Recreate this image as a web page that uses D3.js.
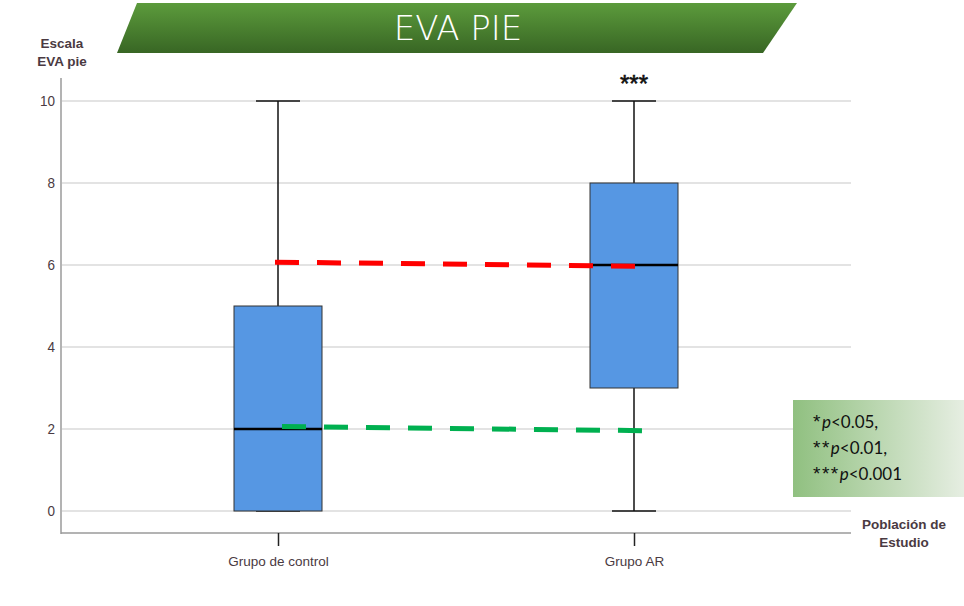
<!DOCTYPE html>
<html>
<head>
<meta charset="utf-8">
<script src="https://cdn.jsdelivr.net/npm/d3@7"></script>
<style>
  body { margin: 0; background: #fff; }
  svg text { font-family: "Liberation Sans", Arial, sans-serif; }
</style>
</head>
<body>
<div id="container"></div>
<script>
/** DATA */
const groups = ["Grupo de control", "Grupo AR"];
const q1 = [0, 3];
const medians = [2, 6];
const q3 = [5, 8];
const whiskLow = [0, 0];
const whiskHigh = [10, 10];
const yTicks = [0, 2, 4, 6, 8, 10];
// dashed trend lines (start at control, end at AR)
const redLine = [6.07, 5.97];
const greenLine = [2.06, 1.96];
const pLegend = [["*", "p", "<0.05,"], ["**", "p", "<0.01,"], ["***", "p", "<0.001"]];

/** CONSTANTS */
const width = 964, height = 606;
const labelColor = "#4a3a42";

const svg = d3.select("#container").append("svg")
  .attr("width", width).attr("height", height);

const defs = svg.append("defs");
const bannerGrad = defs.append("linearGradient").attr("id", "banner")
  .attr("x1", 0).attr("y1", 0).attr("x2", 0).attr("y2", 1);
bannerGrad.append("stop").attr("offset", "0%").attr("stop-color", "#5c9b3c");
bannerGrad.append("stop").attr("offset", "100%").attr("stop-color", "#386624");

const legGrad = defs.append("linearGradient").attr("id", "leg")
  .attr("x1", 0).attr("y1", 0).attr("x2", 1).attr("y2", 0);
legGrad.append("stop").attr("offset", "0%").attr("stop-color", "#90c080");
legGrad.append("stop").attr("offset", "100%").attr("stop-color", "#e6eee2");

// scales
const y = d3.scaleLinear().domain([0, 10]).range([511, 101]);
const x = d3.scalePoint().domain(groups).range([278, 634]);
const boxW = 88, capW = 44;

// gridlines
svg.append("g").selectAll("line").data(yTicks).join("line")
  .attr("x1", 62).attr("x2", 851)
  .attr("y1", d => y(d)).attr("y2", d => y(d))
  .attr("stroke", "#c8c8c8").attr("stroke-width", 1.2);

// y axis
const yAxis = svg.append("g").attr("transform", "translate(61,0)")
  .call(d3.axisLeft(y).tickValues(yTicks).tickSize(0).tickPadding(6));
yAxis.select(".domain").remove();
yAxis.selectAll("text").attr("font-size", 13.5).attr("fill", labelColor)
  .attr("transform", "scale(1,1.12)");
svg.append("line").attr("x1", 61).attr("x2", 61).attr("y1", 78).attr("y2", 534)
  .attr("stroke", "#9a9a9a").attr("stroke-width", 1.5);

// x axis
const xAxis = svg.append("g").attr("transform", "translate(0,533)")
  .call(d3.axisBottom(x).tickSize(13).tickPadding(10));
xAxis.select(".domain").attr("d", "M61,0H851").attr("stroke", "#9a9a9a").attr("stroke-width", 1.5);
xAxis.selectAll(".tick line").attr("stroke", "#222").attr("stroke-width", 1.5);
xAxis.selectAll("text").attr("font-size", 13.5).attr("fill", labelColor);

// boxplots
const boxes = svg.append("g").selectAll("g").data(groups).join("g");
boxes.append("line")
  .attr("x1", d => x(d)).attr("x2", d => x(d))
  .attr("y1", (d, i) => y(whiskHigh[i])).attr("y2", (d, i) => y(whiskLow[i]))
  .attr("stroke", "#111").attr("stroke-width", 1.5);
boxes.append("line")
  .attr("x1", d => x(d) - capW / 2).attr("x2", d => x(d) + capW / 2)
  .attr("y1", (d, i) => y(whiskHigh[i])).attr("y2", (d, i) => y(whiskHigh[i]))
  .attr("stroke", "#111").attr("stroke-width", 1.5);
boxes.append("line")
  .attr("x1", d => x(d) - capW / 2).attr("x2", d => x(d) + capW / 2)
  .attr("y1", (d, i) => y(whiskLow[i])).attr("y2", (d, i) => y(whiskLow[i]))
  .attr("stroke", "#111").attr("stroke-width", 1.5);
boxes.append("rect")
  .attr("x", d => x(d) - boxW / 2).attr("width", boxW)
  .attr("y", (d, i) => y(q3[i])).attr("height", (d, i) => y(q1[i]) - y(q3[i]))
  .attr("fill", "#5697e3").attr("stroke", "#333").attr("stroke-width", 1);
boxes.append("line")
  .attr("x1", d => x(d) - boxW / 2).attr("x2", d => x(d) + boxW / 2)
  .attr("y1", (d, i) => y(medians[i])).attr("y2", (d, i) => y(medians[i]))
  .attr("stroke", "#000").attr("stroke-width", 2.5);

// dashed trend lines
const xs = [x(groups[0]), x(groups[1])];
svg.append("line")
  .attr("x1", xs[0] - 3).attr("x2", xs[1] + 1)
  .attr("y1", y(redLine[0])).attr("y2", y(redLine[1]))
  .attr("stroke", "#ff0000").attr("stroke-width", 5).attr("stroke-dasharray", "24 18");
svg.append("line")
  .attr("x1", xs[0] + 4).attr("x2", xs[1] + 8)
  .attr("y1", y(greenLine[0])).attr("y2", y(greenLine[1]))
  .attr("stroke", "#00b050").attr("stroke-width", 5).attr("stroke-dasharray", "24 18");

// significance
svg.append("text").attr("x", x(groups[1])).attr("y", 92)
  .attr("text-anchor", "middle").attr("font-size", 24).attr("fill", "#111")
  .attr("stroke", "#111").attr("stroke-width", 0.6)
  .text("***");

// axis titles
const yt = svg.append("text").attr("text-anchor", "middle").attr("font-size", 13.5)
  .attr("font-weight", "bold").attr("fill", labelColor);
yt.append("tspan").attr("x", 62).attr("y", 48).text("Escala");
yt.append("tspan").attr("x", 62).attr("y", 66).text("EVA pie");
const xt = svg.append("text").attr("text-anchor", "middle").attr("font-size", 13.5)
  .attr("font-weight", "bold").attr("fill", labelColor);
xt.append("tspan").attr("x", 904).attr("y", 529).text("Población de");
xt.append("tspan").attr("x", 904).attr("y", 547).text("Estudio");

// title banner
svg.append("path")
  .attr("d", "M137,3 L797,3 L763,53 L117,53 Z")
  .attr("fill", "url(#banner)");
svg.append("text").attr("x", 458).attr("y", 40)
  .attr("text-anchor", "middle").attr("font-size", 34)
  .style("font-family", "'DejaVu Sans', sans-serif")
  .attr("font-weight", 200).attr("fill", "#fff")
  .text("EVA PIE");

// p-value legend
svg.append("rect").attr("x", 793).attr("y", 400).attr("width", 171).attr("height", 97)
  .attr("fill", "url(#leg)");
const leg = svg.append("g").selectAll("text").data(pLegend).join("text")
  .attr("x", 813).attr("y", (d, i) => 428 + i * 26)
  .attr("font-size", 17).attr("fill", "#111")
  .style("font-family", "Lato, 'Open Sans', sans-serif");
leg.append("tspan").attr("font-size", 19).style("font-family", "'Liberation Sans', sans-serif")
  .attr("letter-spacing", 1.5).text(d => d[0]);
leg.append("tspan").attr("font-style", "italic").text(d => d[1]);
leg.append("tspan").text(d => d[2]);
</script>
</body>
</html>
